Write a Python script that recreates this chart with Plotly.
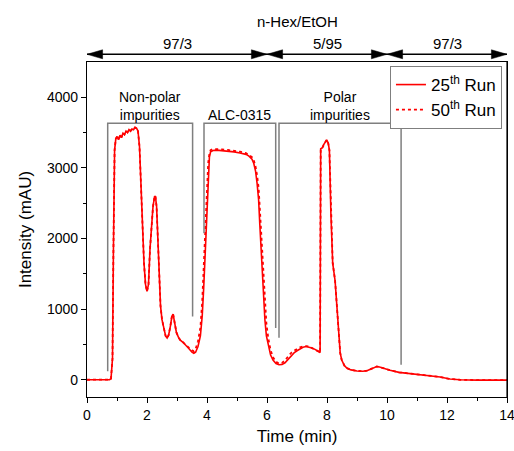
import plotly.graph_objects as go

# ---- data ----
time_min = [0, 0.5, 0.75, 0.8, 0.85, 0.88, 0.92, 0.96, 1.0, 1.05, 1.1, 1.15, 1.2, 1.25, 1.3, 1.35,
            1.4, 1.45, 1.5, 1.55, 1.6, 1.65, 1.7, 1.75, 1.8, 1.85, 1.9, 1.95, 2.0, 2.05, 2.1, 2.15,
            2.2, 2.25, 2.28, 2.32, 2.36, 2.4, 2.45, 2.5, 2.56, 2.62, 2.67, 2.72, 2.78, 2.83, 2.87,
            2.92, 2.98, 3.05, 3.11, 3.2, 3.3, 3.4, 3.5, 3.56, 3.62, 3.7, 3.78, 3.84, 3.89, 3.94,
            3.99, 4.04, 4.08, 4.12, 4.2, 4.32, 4.5, 4.7, 4.9, 5.1, 5.3, 5.4, 5.5, 5.56, 5.62, 5.67,
            5.72, 5.76, 5.8, 5.84, 5.88, 5.93, 5.98, 6.05, 6.12, 6.2, 6.3, 6.4, 6.5, 6.6, 6.7, 6.8,
            6.9, 7.0, 7.1, 7.2, 7.3, 7.4, 7.5, 7.6, 7.7, 7.77, 7.79, 7.84, 7.88, 7.93, 7.99, 8.04,
            8.08, 8.13, 8.19, 8.27, 8.32, 8.38, 8.44, 8.49, 8.58, 8.66, 8.8, 9.0, 9.2, 9.35, 9.5,
            9.6, 9.66, 9.75, 9.9, 10.1, 10.4, 10.8, 11.1, 11.5, 11.77, 12.1, 12.43, 13.0, 13.5, 14.0]

run25 = [0, 0, 2, 15, 300, 1800, 3250, 3410, 3440, 3400, 3460, 3430, 3490, 3470, 3520, 3500,
         3540, 3520, 3550, 3540, 3570, 3560, 3520, 3300, 2850, 2200, 1650, 1350, 1250, 1350, 1850, 2200,
         2450, 2590, 2600, 2450, 2050, 1500, 1050, 850, 730, 620, 590, 630, 760, 900, 930,
         820, 670, 600, 560, 530, 490, 440, 390, 375, 390, 470, 620, 900, 1300, 1850,
         2400, 2950, 3150, 3225, 3245, 3250, 3245, 3235, 3225, 3210, 3190, 3165, 3120, 3060, 2950, 2780,
         2550, 2200, 1850, 1500, 1170, 850, 620, 460, 350, 280, 230, 212, 215, 240, 290, 340,
         380, 410, 440, 460, 470, 465, 450, 430, 405, 385, 3270, 3280, 3320, 3350, 3395, 3350,
         3250, 2350, 1650, 1400, 1080, 610, 380, 280, 200, 165, 140, 125, 120, 130, 155,
         180, 188, 180, 160, 135, 105, 85, 65, 55, 40, 10, 0, -5, -5, -5]

run50 = [0, 0, 2, 15, 300, 1800, 3250, 3410, 3440, 3400, 3460, 3430, 3490, 3470, 3520, 3500,
         3540, 3520, 3550, 3540, 3570, 3560, 3520, 3300, 2850, 2200, 1650, 1350, 1250, 1350, 1850, 2200,
         2450, 2590, 2600, 2450, 2050, 1500, 1050, 850, 730, 620, 590, 630, 760, 900, 930,
         820, 670, 600, 560, 530, 490, 455, 415, 405, 435, 545, 740, 1100, 1560, 2100,
         2640, 3070, 3200, 3250, 3265, 3265, 3260, 3252, 3242, 3228, 3208, 3185, 3150, 3105, 3015, 2890,
         2720, 2430, 2110, 1770, 1420, 1070, 790, 570, 420, 320, 255, 228, 238, 275, 330, 378,
         410, 435, 458, 472, 477, 470, 452, 430, 405, 385, 3270, 3280, 3320, 3350, 3395, 3350,
         3250, 2350, 1650, 1400, 1080, 610, 380, 280, 200, 165, 140, 125, 120, 130, 155,
         180, 188, 180, 160, 135, 105, 85, 65, 55, 40, 10, 0, -5, -5, -5]

series_names = ["25<sup>th</sup> Run", "50<sup>th</sup> Run"]

# brackets: label, start, end, top, left foot, right foot
bracket_labels = ["Non-polar<br>impurities", "ALC-0315", "Polar<br>impurities"]
bracket_start = [0.69, 3.9, 6.4]
bracket_end = [3.52, 6.29, 10.47]
bracket_top = [3630, 3630, 3630]
bracket_left_foot = [120, 2075, 593]
bracket_right_foot = [894, 734, 212]

# gradient segments
grad_start = [0, 6, 10]
grad_end = [6, 10, 14]
grad_labels = ["97/3", "5/95", "97/3"]
grad_title = "n-Hex/EtOH"

FONT = "Arial, Liberation Sans, sans-serif"
RED = "#ff0000"
GRAY = "#7f7f7f"

fig = go.Figure()
fig.add_trace(go.Scatter(x=time_min, y=run25, mode="lines", name=series_names[0],
                         line=dict(color=RED, width=1.6)))
fig.add_trace(go.Scatter(x=time_min, y=run50, mode="lines", name=series_names[1],
                         line=dict(color=RED, width=1.8, dash="dot")))

shapes = []
annotations = []
for lab, s, e, top, lf, rf in zip(bracket_labels, bracket_start, bracket_end, bracket_top,
                                   bracket_left_foot, bracket_right_foot):
    path = f"M {s},{lf} L {s},{top} L {e},{top} L {e},{rf}"
    shapes.append(dict(type="path", path=path, xref="x", yref="y",
                       line=dict(color=GRAY, width=1.5)))
    annotations.append(dict(x=(s + e) / 2, y=top, xref="x", yref="y", text=lab,
                            showarrow=False, yanchor="bottom", yshift=-2,
                            font=dict(family=FONT, size=14, color="black")))

ARROW_Y = 1.023      # paper coordinates of the gradient arrows
HEAD_LEN = 0.52      # minutes
HEAD_HALF = 0.0135   # paper
for s, e, lab in zip(grad_start, grad_end, grad_labels):
    shapes.append(dict(type="line", xref="x", yref="paper", x0=s, x1=e, y0=ARROW_Y, y1=ARROW_Y,
                       line=dict(color="black", width=1.6)))
    for tip, base in ((s, s + HEAD_LEN), (e, e - HEAD_LEN)):
        p = (f"M {tip},{ARROW_Y} L {base},{ARROW_Y + HEAD_HALF} "
             f"L {base},{ARROW_Y - HEAD_HALF} Z")
        shapes.append(dict(type="path", path=p, xref="x", yref="paper",
                           fillcolor="black", line=dict(color="black", width=0.5)))
    annotations.append(dict(x=(s + e) / 2, y=1.054, xref="x", yref="paper", text=lab,
                            showarrow=False, yanchor="middle",
                            font=dict(family=FONT, size=15, color="black")))
annotations.append(dict(x=7, y=1.122, xref="x", yref="paper", text=grad_title, showarrow=False,
                        yanchor="middle", font=dict(family=FONT, size=15, color="black")))

# right frame line drawn explicitly so it is always visible
shapes.append(dict(type="line", xref="paper", yref="paper", x0=1, x1=1, y0=0, y1=1,
                   line=dict(color="black", width=1.2)))

fig.update_layout(
    width=514, height=451,
    margin=dict(l=87, r=7, t=62, b=54, autoexpand=False),
    paper_bgcolor="white", plot_bgcolor="white",
    font=dict(family=FONT, size=14, color="black"),
    shapes=shapes, annotations=annotations,
    legend=dict(x=0.988, y=0.988, xanchor="right", yanchor="top",
                bgcolor="white", bordercolor=GRAY, borderwidth=1,
                font=dict(family=FONT, size=17, color="black"),
                tracegroupgap=0),
    xaxis=dict(range=[0, 14], tickmode="linear", tick0=0, dtick=2, automargin=False,
               ticks="outside", ticklen=5, tickwidth=1, tickcolor="black",
               minor=dict(ticks="outside", ticklen=3, dtick=1, tickcolor="black"),
               showline=True, linecolor="black", linewidth=1.2, mirror=True,
               showgrid=False, zeroline=False, ticklabeloverflow="allow",
               title=dict(text="Time (min)", font=dict(family=FONT, size=17), standoff=8),
               tickfont=dict(family=FONT, size=14)),
    yaxis=dict(range=[-244, 4497], tickmode="linear", tick0=0, dtick=1000, automargin=False,
               ticks="outside", ticklen=5, tickwidth=1, tickcolor="black",
               minor=dict(ticks="outside", ticklen=3, dtick=500, tickcolor="black"),
               showline=True, linecolor="black", linewidth=1.2, mirror=True,
               showgrid=False, zeroline=False,
               title=dict(text="Intensity (mAU)", font=dict(family=FONT, size=17), standoff=10),
               tickfont=dict(family=FONT, size=14)),
)

fig.write_html("out.html", config={"displayModeBar": False},
               post_script="document.body.style.margin='0';document.body.style.overflow='hidden';")
